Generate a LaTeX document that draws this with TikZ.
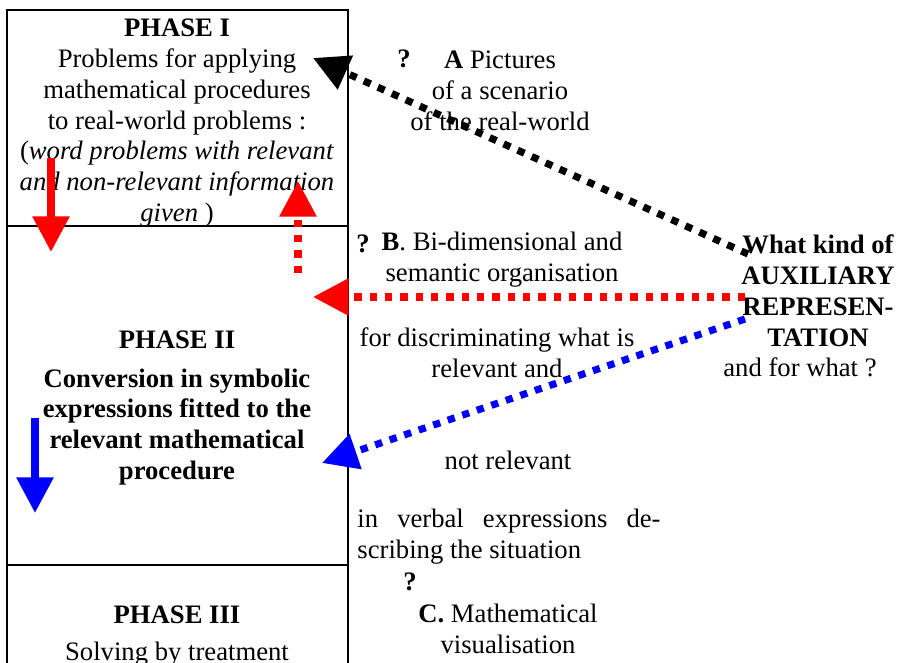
\documentclass[tikz,border=0pt]{standalone}
\usepackage{fontspec}
\setmainfont{Liberation Serif}
\usetikzlibrary{arrows.meta,positioning}

\begin{document}
\begin{tikzpicture}[
            x=0.45pt, y=-0.45pt,
            every node/.style={font=\fontsize{12}{13.9}\selectfont, inner sep=0pt, align=center},
            bold/.style={font=\fontsize{12}{13.9}\selectfont\bfseries},
            frame/.style={draw, line width=0.9pt},
            solidarrow/.style={line width=3.2pt, -{Triangle[length=16pt, width=16pt]}},
            dotarrow/.style={solidarrow, dash pattern=on 3.3pt off 3.6pt}
        ]
            \useasboundingbox (0,0) rectangle (897,663);
            \clip (0,0) rectangle (897,663);

            % Phase boxes
            \draw[frame] (7,10) rectangle (348,226);
            \draw[frame] (7,226) rectangle (348,565);
            \draw[frame] (7,565) rectangle (348,720);

            % Phase I
            \node[bold] (phaseI) at (177,28) {PHASE I};
            \node (problems) at (177,138) {Problems for applying\\mathematical procedures\\to real-world problems :\\(\textit{word problems with relevant}\\\textit{and non-relevant information}\\\textit{given} )};

            % Phase II
            \node[bold] (phaseII) at (177,340) {PHASE II};
            \node[bold] (conversion) at (177,427) {Conversion in symbolic\\expressions fitted to the\\relevant mathematical\\procedure};

            % Phase III
            \node[bold] (phaseIII) at (177,615) {PHASE III};
            \node (solving) at (177,654) {Solving by treatment};

            % Auxiliary representations
            \node[bold] (qA) at (404,59) {?};
            \node (pictures) at (500,91) {\textbf{A} Pictures\\of a scenario\\of the real-world};
            \node[bold] (qB) at (363,244) {?};
            \node (organisation) at (502,260) {\textbf{B}. Bi-dimensional and\\semantic organisation};
            \node (discriminating) at (497,353) {for discriminating what is\\relevant and};
            \node (notrelevant) at (508,460) {not relevant};
            \node[anchor=west, align=left] (verbal) at (357,537) {\makebox[136.4pt][s]{in verbal expressions de-}\\scribing the situation};
            \node[bold] (qC) at (410,582) {?};
            \node (visualisation) at (508,629) {\textbf{C.} Mathematical\\visualisation};
            \node[bold] (kind) at (818,291) {What kind of\\AUXILIARY\\REPRESEN-\\TATION};
            \node (forwhat) at (800,367) {and for what ?};

            % Arrow ends
            \coordinate (startA) at (748,254);
            \coordinate (tipA) at (313,58);
            \coordinate (startB) at (745,297);
            \coordinate (tipB) at (313,297);
            \coordinate (startC) at (745,319);
            \coordinate (tipC) at (322,463);
            \coordinate (downI) at (51,158);
            \coordinate (downII) at (51,252);
            \coordinate (upII) at (298,273);
            \coordinate (upI) at (298,181);
            \coordinate (blueTop) at (35,418);
            \coordinate (blueTip) at (35,513);

            % Arrows
            \draw[dotarrow] (startA) -- (tipA);
            \draw[dotarrow, red] (startB) -- (tipB);
            \draw[dotarrow, blue] (startC) -- (tipC);
            \draw[solidarrow, red] (downI) -- (downII);
            \draw[dotarrow, red] (upII) -- (upI);
            \draw[solidarrow, blue] (blueTop) -- (blueTip);
        \end{tikzpicture}
\end{document}
